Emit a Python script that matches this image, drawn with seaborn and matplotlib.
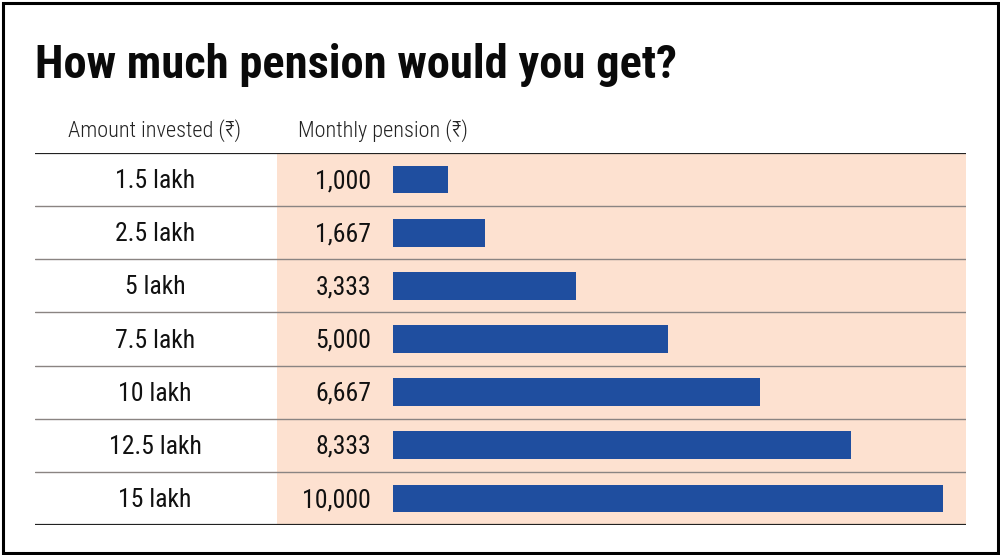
import matplotlib
matplotlib.use("Agg")
import matplotlib.pyplot as plt
import seaborn as sns
import pandas as pd
from matplotlib.patches import Rectangle

# data
amounts = ['1.5 lakh', '2.5 lakh', '5 lakh', '7.5 lakh', '10 lakh', '12.5 lakh', '15 lakh']
pension = [1000, 1667, 3333, 5000, 6667, 8333, 10000]
title = 'How much pension would you get?'
col_headers = ['Amount invested (₹)', 'Monthly pension (₹)']

sns.set_theme(style='white')
FONT = ['Roboto Condensed', 'IBM Plex Sans Condensed', 'DejaVu Sans']
plt.rcParams['font.family'] = FONT

BAR = '#1f4e9f'
PEACH = '#fde1d0'

df = pd.DataFrame({'amount': amounts, 'pension': pension})

fig = plt.figure(figsize=(10, 5.55), dpi=100)
ax = fig.add_axes([35 / 1000, 1 - 525 / 555, 931 / 1000, 372 / 555])

# pixel -> data mapping: 0 at px 393, 10000 at px 943
u = 10000 / 550.0
def px(x):
    return (x - 393) * u

ax.axvspan(px(277), px(966), color=PEACH, zorder=0, lw=0)
sns.barplot(data=df, x='pension', y='amount', orient='h', color=BAR,
            saturation=1, width=0.52, linewidth=0, ax=ax, zorder=2)
ax.set_xlim(px(35), px(966))
ax.set_ylim(len(amounts) - 0.5, -0.5)

for i, (a, p) in enumerate(zip(amounts, pension)):
    ax.text(px(155), i + 0.03, a, ha='center', va='center', fontsize=18.5, color='#111')
    ax.text(px(371), i + 0.03, f'{p:,}', ha='right', va='center', fontsize=18.5, color='#111')

for i in range(len(amounts) - 1):
    ax.axhline(i + 0.5, color='#8a8482', lw=1.0, zorder=1)
ax.axhline(-0.5, color='#222', lw=1.6, zorder=3)
ax.axhline(len(amounts) - 0.5, color='#222', lw=1.6, zorder=3)

ax.set_xlabel('')
ax.set_ylabel('')
ax.set_xticks([])
ax.set_yticks([])
sns.despine(ax=ax, left=True, bottom=True)
ax.patch.set_alpha(0)

fig.text(35 / 1000, 1 - 78 / 555, title, fontsize=33.5, fontweight='bold',
         color='#0a0a0a', ha='left', va='baseline')
fig.text(155 / 1000, 1 - 137 / 555, col_headers[0], fontsize=16, fontweight='light',
         color='#222', ha='center', va='baseline')
fig.text(298 / 1000, 1 - 137 / 555, col_headers[1], fontsize=16, fontweight='light',
         color='#222', ha='left', va='baseline')

fig.patches.append(Rectangle((2.5 / 1000, 2.5 / 555), 995 / 1000, 550 / 555,
                             transform=fig.transFigure, fill=False,
                             edgecolor='black', lw=2.2))

fig.savefig('out.png', dpi=100)
